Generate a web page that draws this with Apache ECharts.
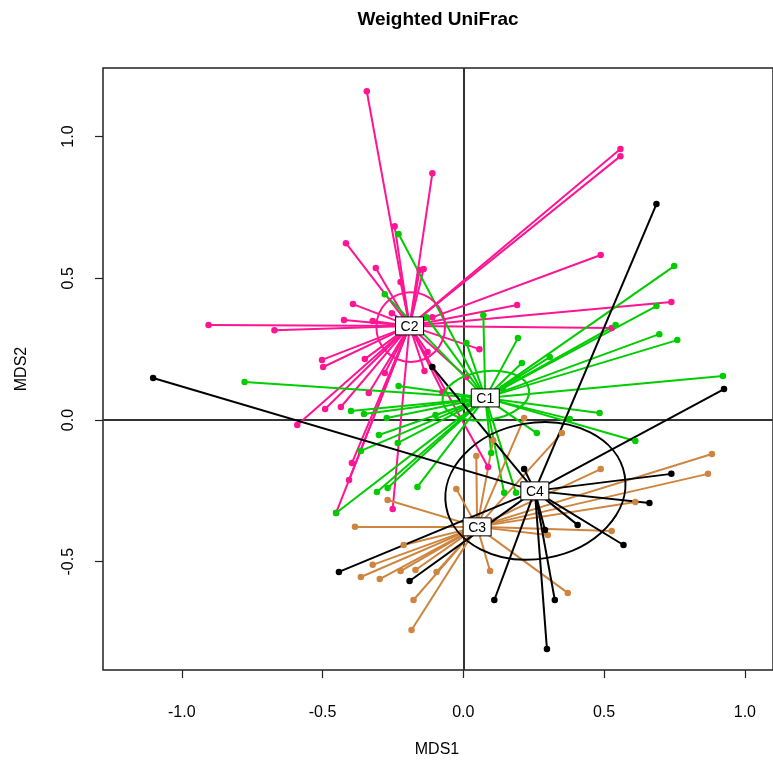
<!DOCTYPE html>
<html>
<head>
<meta charset="utf-8">
<script src="https://cdn.jsdelivr.net/npm/echarts@6/dist/echarts.min.js"></script>
<style>
html,body{margin:0;padding:0;background:#fff;}
#chart{width:773px;height:764px;}
</style>
</head>
<body>
<div id="chart"></div>
<script>
// ---- data ----
const groupNames = ['C1', 'C2', 'C3', 'C4'];
const groupColors = ['#00CD00', '#FF1493', '#CD853F', '#000000'];
const centroidX = [0.078, -0.191, 0.049, 0.254];
const centroidY = [0.078, 0.332, -0.377, -0.250];

const c1X = [-0.230,-0.279,-0.131,0.011,0.071,0.194,0.208,0.307,0.541,0.686,0.696,0.749,0.760,0.922,0.611,0.484,0.378,0.261,-0.777,-0.230,-0.399,-0.353,-0.272,-0.300,-0.233,-0.099,-0.364,-0.307,-0.269,-0.163,-0.452,0.099,0.145,0.187,0.000,0.141];
const c1Y = [0.656,0.444,0.363,0.272,0.370,0.289,0.201,0.222,0.335,0.402,0.303,0.543,0.282,0.155,-0.074,0.025,0.004,-0.046,0.134,0.120,0.032,0.021,0.007,-0.053,-0.081,0.018,-0.109,-0.254,-0.240,-0.236,-0.328,-0.116,-0.257,-0.257,0.071,0.113];

const c2X = [-0.343,-0.110,-0.244,-0.417,0.558,0.558,0.488,0.191,0.739,-0.905,-0.671,-0.590,0.527,0.057,-0.311,-0.141,-0.155,-0.223,-0.392,-0.254,-0.424,-0.322,-0.110,-0.502,-0.498,-0.350,-0.138,-0.279,-0.127,0.011,-0.336,-0.435,-0.491,-0.074,-0.396,-0.406,-0.452,-0.251,0.088];
const c2Y = [1.160,0.871,0.684,0.624,0.956,0.931,0.582,0.406,0.416,0.335,0.317,-0.018,0.325,0.250,0.536,0.533,0.529,0.487,0.409,0.377,0.353,0.349,0.363,0.212,0.187,0.215,0.173,0.166,0.240,0.152,0.095,0.046,0.039,0.099,-0.152,-0.212,-0.328,-0.314,-0.166];

const c3X = [0.216,0.350,0.106,0.046,0.488,0.611,0.883,0.869,0.527,0.300,0.095,0.371,-0.025,-0.269,-0.385,-0.212,-0.322,-0.364,-0.297,-0.223,-0.170,-0.095,-0.177,-0.184];
const c3Y = [0.007,-0.046,-0.071,-0.127,-0.173,-0.289,-0.120,-0.190,-0.392,-0.406,-0.533,-0.610,-0.243,-0.282,-0.377,-0.441,-0.511,-0.554,-0.561,-0.533,-0.529,-0.536,-0.635,-0.741];

const c4X = [0.686,-1.102,-0.110,0.926,0.739,0.661,0.569,0.216,0.406,0.290,0.110,0.325,0.297,-0.442,-0.191];
const c4Y = [0.762,0.148,0.187,0.109,-0.190,-0.293,-0.441,-0.173,-0.370,-0.388,-0.635,-0.635,-0.808,-0.536,-0.568];

// dispersion ellipses (C1, C2, C4): centre, semi-axes, rotation (deg)
const ellipseGroup = [0, 1, 3];
const ellipseCX = [0.080, -0.187, 0.256];
const ellipseCY = [0.086, 0.328, -0.250];
const ellipseRX = [0.155, 0.122, 0.322];
const ellipseRY = [0.086, 0.123, 0.240];
const ellipseRot = [8, 0, 10];

const xTicks = [-1.0, -0.5, 0.0, 0.5, 1.0];
const yTicks = [-0.5, 0.0, 0.5, 1.0];

// ---- build ----
const groupX = [c1X, c2X, c3X, c4X];
const groupY = [c1Y, c2Y, c3Y, c4Y];
const drawOrder = [1, 0, 2, 3];
const FONT = '"Liberation Sans", Arial, Helvetica, sans-serif';

const series = [];
drawOrder.forEach(g => {
  const segs = groupX[g].map((x, i) => ({coords: [[centroidX[g], centroidY[g]], [x, groupY[g][i]]]}));
  series.push({
    type: 'lines', coordinateSystem: 'cartesian2d', polyline: false,
    data: segs, silent: true, z: 2,
    lineStyle: {color: groupColors[g], width: 2, opacity: 1}
  });
});
drawOrder.forEach(g => {
  series.push({
    type: 'scatter', symbol: 'circle', symbolSize: 6.5, z: 3, silent: true,
    itemStyle: {color: groupColors[g], opacity: 1},
    data: groupX[g].map((x, i) => [x, groupY[g][i]])
  });
});
series.push({
  type: 'custom', z: 4, silent: true, clip: true,
  data: ellipseGroup.map((g, i) => [ellipseCX[i], ellipseCY[i], ellipseRX[i], ellipseRY[i], ellipseRot[i], g]),
  renderItem: (params, api) => {
    const c = api.coord([api.value(0), api.value(1)]);
    const s = api.size([api.value(2), api.value(3)]);
    return {
      type: 'ellipse', x: c[0], y: c[1], rotation: api.value(4) * Math.PI / 180,
      shape: {cx: 0, cy: 0, rx: s[0], ry: s[1]},
      style: {fill: 'none', stroke: groupColors[api.value(5)], lineWidth: 2}
    };
  }
});
// centroid labels
series.push({
  type: 'custom', z: 6, silent: true, clip: false,
  data: groupNames.map((n, i) => [centroidX[i], centroidY[i]]),
  renderItem: (params, api) => {
    const c = api.coord([api.value(0), api.value(1)]);
    return {
      type: 'group', x: c[0], y: c[1],
      children: [
        {type: 'rect', shape: {x: -14, y: -9, width: 28, height: 18}, style: {fill: '#fff', stroke: '#000', lineWidth: 1}},
        {type: 'text', style: {text: groupNames[params.dataIndex], x: 0, y: 1, align: 'center', verticalAlign: 'middle', font: '14px ' + FONT, fill: '#000'}}
      ]
    };
  },
  markLine: {
    silent: true, symbol: 'none', label: {show: false}, z: 1,
    lineStyle: {color: '#333', width: 2, type: 'solid'},
    data: [{xAxis: 0}, {yAxis: 0}]
  }
});

const chart = echarts.init(document.getElementById('chart'), null, {renderer: 'canvas'});
chart.setOption({
  animation: false,
  backgroundColor: '#fff',
  textStyle: {fontFamily: FONT},
  grid: {left: 103, top: 68, width: 674, height: 602, show: true, borderColor: '#222', borderWidth: 1.5, backgroundColor: 'transparent'},
  xAxis: {
    type: 'value', min: -1.28, max: 1.1,
    axisLine: {show: false, onZero: false}, splitLine: {show: false},
    axisTick: {show: true, inside: false, length: 8, customValues: xTicks, lineStyle: {color: '#222', width: 1.2}},
    axisLabel: {show: true, customValues: xTicks, formatter: v => v.toFixed(1), fontSize: 16, color: '#000', margin: 35, fontFamily: FONT}
  },
  yAxis: {
    type: 'value', min: -0.882, max: 1.242,
    axisLine: {show: false, onZero: false}, splitLine: {show: false},
    axisTick: {show: true, inside: false, length: 8, customValues: yTicks, lineStyle: {color: '#222', width: 1.2}},
    axisLabel: {show: true, customValues: yTicks, formatter: v => v.toFixed(1), rotate: 90, fontSize: 16, color: '#000', margin: 26, fontFamily: FONT}
  },
  graphic: [
    {type: 'text', x: 438, y: 20, style: {text: 'Weighted UniFrac', font: 'bold 19px ' + FONT, fill: '#000', align: 'center', verticalAlign: 'middle'}},
    {type: 'text', x: 437, y: 750, style: {text: 'MDS1', font: '16px ' + FONT, fill: '#000', align: 'center', verticalAlign: 'middle'}},
    {type: 'text', x: 22, y: 369, rotation: Math.PI / 2, style: {text: 'MDS2', font: '16px ' + FONT, fill: '#000', align: 'center', verticalAlign: 'middle'}}
  ],
  series: series
});
</script>
</body>
</html>
